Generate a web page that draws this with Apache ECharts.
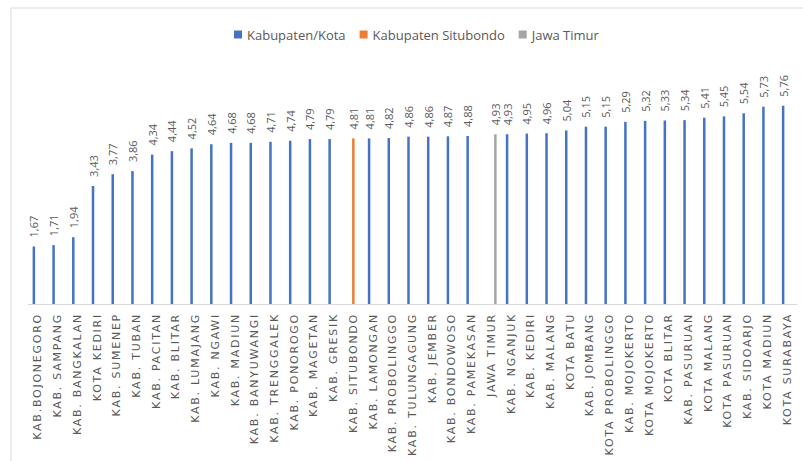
<!DOCTYPE html>
<html><head><meta charset="utf-8">
<script src="https://cdn.jsdelivr.net/npm/echarts@6/dist/echarts.min.js"></script>
<style>html,body{margin:0;padding:0;background:#fff}#c{width:803px;height:461px}</style>
</head><body><div id="c"></div>
<script>
const categories = ["KAB.BOJONEGORO","KAB. SAMPANG","KAB. BANGKALAN","KOTA KEDIRI","KAB. SUMENEP","KAB. TUBAN","KAB. PACITAN","KAB. BLITAR","KAB. LUMAJANG","KAB. NGAWI","KAB. MADIUN","KAB. BANYUWANGI","KAB. TRENGGALEK","KAB. PONOROGO","KAB. MAGETAN","KAB. GRESIK","KAB. SITUBONDO","KAB. LAMONGAN","KAB. PROBOLINGGO","KAB. TULUNGAGUNG","KAB. JEMBER","KAB. BONDOWOSO","KAB. PAMEKASAN","JAWA TIMUR","KAB. NGANJUK","KAB. KEDIRI","KAB. MALANG","KOTA BATU","KAB. JOMBANG","KOTA PROBOLINGGO","KAB. MOJOKERTO","KOTA MOJOKERTO","KOTA BLITAR","KAB. PASURUAN","KOTA MALANG","KOTA PASURUAN","KAB. SIDOARJO","KOTA MADIUN","KOTA SURABAYA"];
const kabKotaValues = [1.67,1.71,1.94,3.43,3.77,3.86,4.34,4.44,4.52,4.64,4.68,4.68,4.71,4.74,4.79,4.79,null,4.81,4.82,4.86,4.86,4.87,4.88,null,4.93,4.95,4.96,5.04,5.15,5.15,5.29,5.32,5.33,5.34,5.41,5.45,5.54,5.73,5.76];
const situbondoValues = categories.map(c => c === "KAB. SITUBONDO" ? 4.81 : null);
const jatimValues = categories.map(c => c === "JAWA TIMUR" ? 4.93 : null);
const seriesNames = ["Kabupaten/Kota","Kabupaten Situbondo","Jawa Timur"];
const colors = ["#4472C4","#ED7D31","#A5A5A5"];

const labelCfg = {
  show: true, position: 'top', rotate: 90, align: 'left', verticalAlign: 'middle',
  distance: 9, color: '#595959', fontSize: 11, fontFamily: 'Open Sans',
  formatter: p => p.value == null ? '' : p.value.toFixed(2).replace('.', ',')
};
const chart = echarts.init(document.getElementById('c'), null, {renderer: 'svg'});
chart.setOption({
  animation: false,
  backgroundColor: '#fff',
  color: colors,
  graphic: [{type:'rect', shape:{x:11,y:8,width:800,height:460}, style:{fill:'none', stroke:'#d9d9d9', lineWidth:1}, silent:true}],
  legend: {
    top: 23, left: 229, itemWidth: 8, itemHeight: 8, itemGap: 14,
    icon: 'rect',
    textStyle: {color:'#595959', fontSize: 13, fontFamily: 'Open Sans'},
    data: seriesNames
  },
  grid: {left: 28, right: 6, top: 63, bottom: 157, containLabel: false},
  xAxis: {
    type: 'category', data: categories,
    axisLine: {lineStyle: {color:'#d9d9d9'}},
    axisTick: {show:false},
    axisLabel: {rotate: 90, interval: 0, margin: 9, color:'#595959', fontSize: 11, fontFamily:'DejaVu Sans'}
  },
  yAxis: {type:'value', min:0, max:7, show:false, splitLine:{show:false}},
  series: [
    {name: seriesNames[0], type:'bar', data: kabKotaValues, barWidth: 2.5, barGap: '60%', label: labelCfg},
    {name: seriesNames[1], type:'bar', data: situbondoValues, barWidth: 2.5, barGap: '60%', label: labelCfg},
    {name: seriesNames[2], type:'bar', data: jatimValues, barWidth: 2.5, barGap: '60%', label: labelCfg}
  ]
});
function spaceLabels() {
  const set = new Set(categories);
  document.querySelectorAll('#c svg text').forEach(t => {
    if (set.has(t.textContent)) t.style.letterSpacing = '1.75px';
  });
}
spaceLabels();
chart.on('finished', spaceLabels);
</script></body></html>
